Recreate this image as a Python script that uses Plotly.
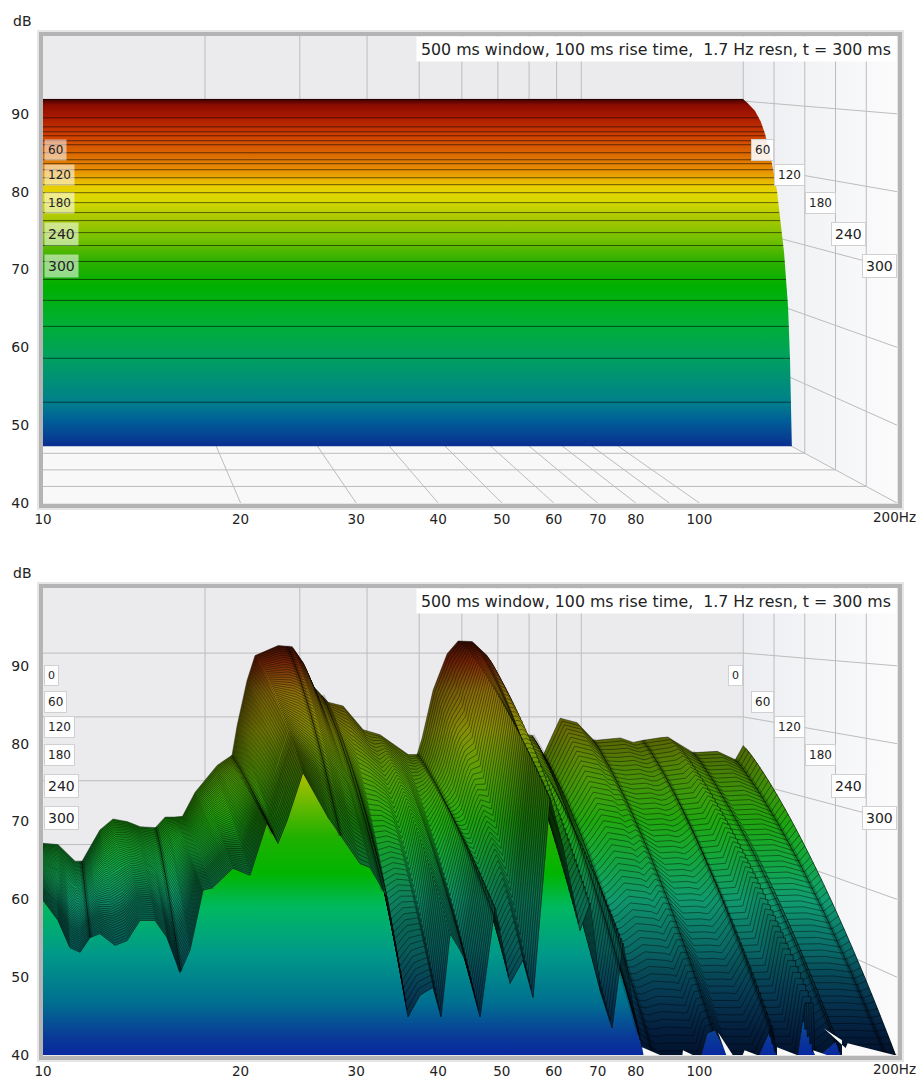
import numpy as np
import plotly.graph_objects as go

# ---------- data ----------
freq_ticks = [10, 20, 30, 40, 50, 60, 70, 80, 100]
grid_freqs = [20, 30, 40, 50, 60, 70, 80, 90, 100, 200]
db_ticks = [40, 50, 60, 70, 80, 90]
grid_dbs = [50, 60, 70, 80, 90]
grid_times = [60, 120, 180, 240]
label_times = [0, 60, 120, 180, 240, 300]
label_db = [88.8, 85.4, 82.1, 78.5, 74.5, 70.4]
label_size = [11, 12, 12, 12, 14, 14]
title_text = "500 ms window, 100 ms rise time,\u00a0\u00a01.7 Hz resn, t = 300 ms"

# upper chart: slice levels (as seen against the front scale) and right edge
top_slice_db = [91.86, 89.49, 88.33, 87.69, 87.18, 86.54, 86.03, 85.0, 84.1, 83.59, 82.82, 81.79, 80.9,
                79.87, 78.59, 77.31, 76.28, 74.74, 73.08, 71.03, 68.72, 66.03, 62.69, 58.59, 52.95, 47.31]
top_edge_db = [91.9, 91.4, 90.4, 89.0, 87.4, 85.4, 83.6, 80.1, 76.3, 72.1, 65.1, 58.6, 47.3]
top_edge_hz = [116.5, 118.4, 121.5, 124.0, 125.9, 127.6, 129, 131.3, 132.7, 134.6, 136.5, 137.4, 138.3]

# lower chart: first slice (t = 0 ms)
back_hz = [10, 10.66, 11.47, 11.82, 12.76, 13.49, 14.33, 15.15, 16.15, 16.86, 18.13, 19.17, 21.06, 22.45,
           22.94, 23.94, 24.77, 27.22, 29.04, 30.29, 31.62, 33.86, 36.11, 39.33, 42.30, 47.69, 49.56, 50.63,
           53.07, 56.35, 59.06, 62.70, 66.86, 70.68, 76.03, 81.08, 84.97, 91.39, 98.28, 105.3, 118.2, 124.9,
           129.8, 144.5, 157.4, 161.5, 179.0, 193.3, 200]
back_db = [60.2, 60.0, 57.4, 57.4, 62.3, 64.0, 63.6, 62.8, 62.6, 64.3, 64.3, 68.2, 72.4, 74.0,
           78.6, 85.7, 89.6, 91.2, 91.0, 88.8, 85.0, 82.3, 81.7, 78.0, 77.2, 74.1, 74.1, 76.7,
           84.2, 89.9, 91.9, 91.8, 89.6, 84.8, 77.5, 77.1, 74.0, 79.8, 79.1, 76.3, 76.7, 76.0,
           76.3, 76.9, 74.9, 74.4, 74.6, 73.3, 75.5]
# lower chart: last slice (t = 300 ms)
front_hz = [10, 10.54, 10.99, 11.39, 11.79, 12.21, 12.87, 13.43, 14.05, 14.81, 15.45, 16.17, 16.75, 17.53,
            18.16, 19.47, 20.67, 21.94, 22.80, 23.54, 24.89, 27.36, 30.41, 31.49, 33.43, 35.98, 37.53, 39.28,
            40.40, 41.70, 43.19, 43.95, 46.33, 48.81, 51.46, 53.86, 55.78, 59.21, 61.97, 65.78, 68.13, 70.57,
            73.60, 76.49, 79.23, 81.77, 87.10, 94.41, 100.2, 102.7, 105.6, 111.3, 122.4, 129.0, 131.3, 140.8,
            144.9, 149.0, 150.0, 162.1, 164.9, 200]
front_db = [59.9, 57.3, 53.8, 53.2, 55.1, 55.6, 54.1, 54.7, 57.3, 57.3, 55.1, 50.6, 53.5, 61.2,
            61.5, 64.0, 63.1, 69.9, 67.2, 70.1, 76.3, 70.1, 64.6, 64.1, 60.3, 44.9, 47.7, 48.7,
            44.9, 55.6, 53.5, 52.2, 44.9, 59.0, 49.2, 52.2, 47.4, 73.1, 66.7, 56.0, 59.5, 48.3,
            43.5, 54.4, 46.2, 41.0, 39.5, 39.5, 39.5, 42.8, 43.2, 39.5, 39.5, 43.8, 39.5, 39.5,
            46.7, 46.7, 39.5, 41.9, 39.5, 39.5]
fold_hz = [11.8, 16.2, 22.4, 28.4, 33, 49.6, 81, 85, 105, 130, 161, 193]

# floor showing through under the last slice: (Hz, dB) triangles
gap_hz = [[81.8, 82.2, 87.1], [94.4, 94.2, 97.7], [106.8, 112.4, 109.9], [117.2, 122.4, 116.4],
          [131.3, 140.8, 131.3], [149.0, 156.4, 150.0],
          [154.8, 157.6, 167.0, 168.2, 198, 164.9, 164.9]]
gap_db = [[41.0, 40, 40], [40.6, 40, 40], [42.9, 40, 40], [40.6, 40, 40],
          [41.0, 40, 40], [40.6, 40, 40],
          [43.4, 42.8, 40.9, 41.5, 40, 40, 41.9]]

# colour ramps, level -> colour
top_ramp_db = [47.3, 50.6, 52.9, 58.6, 63.5, 67.9, 71.2, 73.7, 76.5, 78.8, 80.5, 82.7, 85.3, 87.2, 89.7, 91.1, 91.9]
top_ramp_rgb = ["#0a2f90", "#005f98", "#007f8c", "#00a060", "#00b030", "#00b000", "#30b000", "#70c000", "#a8c800",
                "#d8d800", "#e8d000", "#e89000", "#d86000", "#d04000", "#a81800", "#8c0c00", "#400000"]
curtain_ramp_db = [40, 42.3, 46.7, 53.1, 59, 63.3, 68, 71.8, 76.2, 80]
curtain_ramp_rgb = ["#0828a0", "#0a3a98", "#006f90", "#009a88", "#00b860", "#00b500", "#20b000", "#60b800", "#b0c000", "#c8c800"]
surf_ramp_db = [40, 43.2, 48.3, 53.5, 59.9, 65, 70.1, 76.5, 81.7, 86.8, 90.6, 94]
surf_ramp_rgb = ["#041c44", "#07305e", "#0a5a80", "#0d8a88", "#12a878", "#14a840", "#20a810", "#5aa008",
                 "#8c9408", "#90700c", "#8a2a08", "#3a0c05"]

W, H = 922, 1079
X0, X1 = 43, 897
PANELS = [(36, 503, "x", "y"), (588, 1055, "x2", "y2")]


def project(hz, t, db):
    """(frequency, time, level) -> position against the front-plane axes."""
    hz = np.asarray(hz, float)
    db = np.asarray(db, float)
    d = np.asarray(t, float) / 300.0
    s = 0.82 + 0.18 * d
    u = np.log10(hz / 10) / np.log10(20)
    return 10 ** (1 + np.log10(20) * u * s), 40 + (1 - d) * 10.64 + (db - 40) * s


def ramp(dbs, cols, shade=1.0):
    lo, hi = dbs[0], dbs[-1]
    out = []
    for v, c in zip(dbs, cols):
        r, g, b = [int(c[i:i + 2], 16) for i in (1, 3, 5)]
        out.append([(v - lo) / (hi - lo), f"rgb({int(r*shade)},{int(g*shade)},{int(b*shade)})"])
    return out


fig = go.Figure()


def add(xa, ya, x, y, **kw):
    kw.setdefault("mode", "lines")
    kw.setdefault("line", dict(width=0))
    fig.add_trace(go.Scatter(x=x, y=y, xaxis=xa, yaxis=ya, showlegend=False, hoverinfo="skip", **kw))


GRID = dict(color="#bcbcbc", width=1)


def walls(xa, ya):
    x, y = project([10, 200, 200, 10], 0, [40, 40, 101, 101])
    add(xa, ya, x, y, fill="toself", fillcolor="#ebebee")
    x, y = project([200, 200, 200, 200], [0, 300, 300, 0], [40, 40, 101, 101])
    add(xa, ya, x, y, fill="toself",
        fillgradient=dict(type="horizontal", colorscale=[[0, "#eceef1"], [1, "#fbfbfc"]]))
    x, y = project([10, 200, 200, 10], [0, 0, 300, 300], [40, 40, 40, 40])
    add(xa, ya, x, y, fill="toself", fillcolor="#f8f8f8")
    for f in grid_freqs:
        x, y = project([f, f, f], [300, 0, 0], [40, 40, 101])
        add(xa, ya, x, y, line=GRID)
    for db in grid_dbs:
        x, y = project([10, 200, 200], [0, 0, 300], [db, db, db])
        add(xa, ya, x, y, line=GRID)
    for t in grid_times:
        x, y = project([10, 200, 200], [t, t, t], [40, 40, 101])
        add(xa, ya, x, y, line=GRID)


# ---------- upper chart ----------
walls("x", "y")
edge_rev_db, edge_rev_hz = top_edge_db[::-1], top_edge_hz[::-1]
add("x", "y", [10] + top_edge_hz + [10], [top_edge_db[0]] + top_edge_db + [top_edge_db[-1]], fill="toself",
    fillgradient=dict(type="vertical", colorscale=ramp(top_ramp_db, top_ramp_rgb), start=47.3, stop=91.9))
for db in top_slice_db[:-1]:
    add("x", "y", [10, np.interp(db, edge_rev_db, edge_rev_hz)], [db, db],
        line=dict(color="rgba(0,0,0,0.55)", width=1))

# ---------- lower chart ----------
walls("x2", "y2")
add("x2", "y2", [10] + front_hz + [200], [39] + front_db + [39], fill="toself",
    fillgradient=dict(type="vertical", colorscale=ramp(curtain_ramp_db, curtain_ramp_rgb), start=40, stop=80))

grid_hz = np.array(sorted(set(back_hz) | set(front_hz)))
lb = np.interp(np.log10(grid_hz), np.log10(back_hz), back_db)
lf = np.interp(np.log10(grid_hz), np.log10(front_hz), front_db)


def level(t):
    return lb + (lf - lb) * (t / 300.0) ** 1.15


slice_times = np.linspace(0, 300, 56)
last = len(slice_times) - 1
for k in range(last):
    t0, t1 = slice_times[k], slice_times[min(k + 2, last)]
    xa, ya = project(grid_hz, t0, level(t0))
    xb, yb = project(grid_hz, t1, level(t1))
    mid = (t0 + t1) / 600.0
    shade = 0.66 + 0.34 * np.sin(np.pi * min(1, mid * 1.25))
    add("x2", "y2", np.r_[xa, xb[::-1]], np.r_[ya, yb[::-1]], fill="toself",
        line=dict(color="rgba(0,0,0,0.6)", width=0.7),
        fillgradient=dict(type="vertical", colorscale=ramp(surf_ramp_db, surf_ramp_rgb, shade), start=40, stop=94))

for f in fold_hz:
    ts = slice_times
    lv = [np.interp(np.log10(f), np.log10(grid_hz), level(t)) for t in ts]
    x, y = project(np.full(len(ts), f), ts, lv)
    add("x2", "y2", x, y, line=dict(color="rgba(0,0,0,0.2)", width=5))
    add("x2", "y2", x, y, line=dict(color="rgba(0,0,0,0.6)", width=1))

for gx, gy in zip(gap_hz, gap_db):
    add("x2", "y2", gx, gy, fill="toself", fillcolor="#fafafa")

# ---------- axes, frames and text ----------
FONT = dict(family="DejaVu Sans", size=14, color="#222222")
XFONT = dict(family="DejaVu Sans", size=13.5, color="#222222")
layout = dict(width=W, height=H, margin=dict(l=0, r=0, t=0, b=0, autoexpand=False), paper_bgcolor="white",
              plot_bgcolor="white", showlegend=False, shapes=[], annotations=[], template="none")


def px(v):
    return v / W


def py(v):
    return 1 - v / H


for top, bottom, xn, yn in PANELS:
    xk = "xaxis" + xn[1:]
    yk = "yaxis" + yn[1:]
    layout[xk] = dict(type="log", range=[1, np.log10(200)], domain=[px(X0), px(X1)], anchor=yn, automargin=False,
                      tickvals=freq_ticks, ticktext=[str(v) for v in freq_ticks], tickfont=XFONT,
                      showgrid=False, zeroline=False, ticks="outside", ticklen=4,
                      tickcolor="rgba(0,0,0,0)", showline=False)
    layout[yk] = dict(range=[40, 100], domain=[py(bottom), py(top)], anchor=xn, automargin=False,
                      tickvals=db_ticks, tickfont=FONT, showgrid=False, zeroline=False,
                      ticks="outside", ticklen=10, tickcolor="rgba(0,0,0,0)", showline=False)
    for width, col in ((8, "#e6e6e6"), (4, "#b4b4b4")):
        layout["shapes"].append(dict(type="rect", xref="paper", yref="paper", layer="below",
                                     x0=px(X0 - 2), x1=px(X1 + 3), y0=py(bottom + 3), y1=py(top - 2),
                                     line=dict(color=col, width=width)))
    ann = layout["annotations"]
    ann.append(dict(xref="paper", yref="paper", x=px(11), y=py(top - 15), xanchor="left", yanchor="middle",
                    text="dB", showarrow=False, font=FONT))
    ann.append(dict(xref=xn, yref=yn, x=np.log10(200), y=40, xanchor="left", yanchor="top", xshift=-26, yshift=-4,
                    text="200Hz", showarrow=False, font=XFONT))
    ann.append(dict(xref="paper", yref="paper", x=px(X1 - 1), y=py(top + 13), xanchor="right", yanchor="middle",
                    text=title_text, showarrow=False, width=476, height=22, align="center",
                    bgcolor="white", font=dict(family="DejaVu Sans", size=15.8, color="#222222")))
    for t, db, size in zip(label_times, label_db, label_size):
        if t == 0 and top == 36:
            continue
        over_surface = top == 36
        bg = "rgba(255,255,255,0.55)" if over_surface else "rgba(255,255,255,0.9)"
        edge = "rgba(0,0,0,0)" if over_surface else "#d0d0d0"
        lab = dict(font=dict(family="DejaVu Sans", size=size, color="#222222"), showarrow=False,
                   bgcolor=bg, bordercolor=edge, borderwidth=1, borderpad=3, xanchor="left",
                   yanchor="middle", xref=xn, yref=yn, y=db, text=str(t))
        ann.append(dict(lab, x=1, xshift=1))
        x_right, _ = project(200.0, t, 40.0)
        ann.append(dict(lab, x=float(np.log10(x_right)), xanchor="right", bgcolor="rgba(255,255,255,0.9)" if t else "white",
                        bordercolor="#d0d0d0"))

fig.update_layout(**layout)
fig.write_html("out.html", config=dict(displayModeBar=False),
               post_script="document.body.style.margin='0';document.body.style.overflow='hidden';")
